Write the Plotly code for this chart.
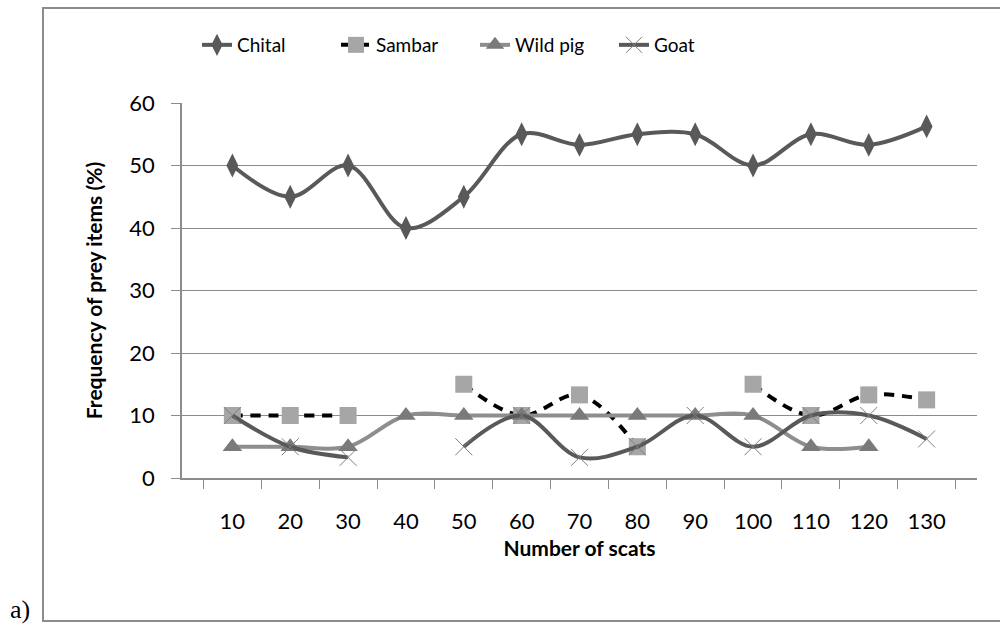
import plotly.graph_objects as go

categories = ["10", "20", "30", "40", "50", "60", "70", "80", "90", "100", "110", "120", "130"]
chital = [50, 45, 50, 40, 45, 55, 53.3, 55, 55, 50, 55, 53.3, 56.25]
sambar = [10, 10, 10, None, 15, 10, 13.3, 5, None, 15, 10, 13.3, 12.5]
wild_pig = [5, 5, 5, 10, 10, 10, 10, 10, 10, 10, 5, 5, None]
goat = [10, 5, 3.3, None, 5, 10, 3.3, 5, 10, 5, 10, 10, 6.25]
y_ticks = [0, 10, 20, 30, 40, 50, 60]

FONT = "Lato"
fig = go.Figure()
fig.add_trace(go.Scatter(x=categories, y=chital, name="Chital", mode="lines+markers",
                         line=dict(color="#595959", width=4, shape="spline", smoothing=1),
                         marker=dict(symbol="diamond-tall", size=17, color="#595959")))
fig.add_trace(go.Scatter(x=categories, y=sambar, name="Sambar", mode="lines+markers",
                         line=dict(color="#000000", width=4, dash="10px,8px", shape="spline", smoothing=1),
                         marker=dict(symbol="square", size=17, color="#A6A6A6"), connectgaps=False))
fig.add_trace(go.Scatter(x=categories, y=wild_pig, name="Wild pig", mode="lines+markers",
                         line=dict(color="#8E8E8E", width=4, shape="spline", smoothing=1),
                         marker=dict(symbol="triangle-up", size=17, color="#7A7A7A"), connectgaps=False))
fig.add_trace(go.Scatter(x=categories, y=goat, name="Goat", mode="lines+markers",
                         line=dict(color="#595959", width=4, shape="spline", smoothing=1),
                         marker=dict(symbol="x-thin", size=17, line=dict(width=1, color="#7F7F7F"), color="#7F7F7F"),
                         connectgaps=False))

L, R, T, B = 182, 977, 103, 478
pw, ph = R - L, B - T

def px(x):
    return (x - L) / pw

def py(y):
    return (B - y) / ph

fig.update_layout(
    width=1000, height=624,
    margin=dict(l=L, r=1000 - R, t=T, b=624 - B),
    plot_bgcolor="white", paper_bgcolor="white",
    font=dict(family=FONT, size=19, color="#000000"),
    showlegend=True,
    legend=dict(orientation="h", x=px(197), xanchor="left", y=py(45), yanchor="middle",
                font=dict(size=19), entrywidth=94, bgcolor="rgba(0,0,0,0)"),
    xaxis=dict(type="category", tickson="boundaries", ticks="outside", ticklen=9,
               tickcolor="#8C8C8C", showline=True, linecolor="#8C8C8C", linewidth=1.5,
               showgrid=False, tickfont=dict(size=22), ticklabelstandoff=23,
               title=dict(text="<b>Number of scats</b>", font=dict(size=21), standoff=8)),
    yaxis=dict(range=[0, 60], tickvals=y_ticks, ticks="outside", ticklen=9,
               tickcolor="#8C8C8C", showline=True, linecolor="#8C8C8C", linewidth=1.5,
               showgrid=True, gridcolor="#8C8C8C", gridwidth=1.2, zeroline=False,
               tickfont=dict(size=22), ticklabelstandoff=12,
               title=dict(text="<b>Frequency of prey items (%)</b>", font=dict(size=21), standoff=21)),
    shapes=[dict(type="rect", xref="paper", yref="paper", x0=px(43), x1=px(1004), y0=py(621), y1=py(8),
                 line=dict(color="#8C8C8C", width=2), fillcolor="rgba(0,0,0,0)", layer="below")],
    annotations=[dict(text="a)", xref="paper", yref="paper", x=px(8), y=py(609), xanchor="left",
                      yanchor="middle", showarrow=False,
                      font=dict(family="Liberation Serif", size=26, color="#000000"))],
)

fig.write_html("out.html")
